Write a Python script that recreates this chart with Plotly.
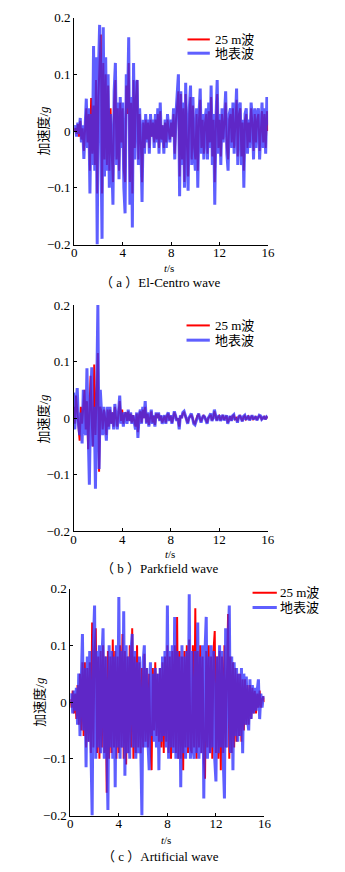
import numpy as np
import plotly.graph_objects as go

# ---------------- data (dt = 0.1 s) ----------------
time_s = [round(0.1 * i, 1) for i in range(161)]

# (a) El-Centro wave
elcentro_surface = [
    0.00, 0.01, -0.01, 0.015, -0.005, 0.023, -0.02, 0.01, -0.049, 0.02,
    0.057, -0.03, 0.04, -0.11, 0.03, -0.06, 0.15, -0.07, 0.13, -0.20,
    0.10, 0.187, -0.06, -0.19, 0.183, -0.08, 0.13, -0.07, 0.10, -0.10,
    0.03, -0.05, -0.13, 0.07, 0.12, -0.06, 0.05, -0.085, 0.06, -0.03,
    0.05, -0.10, -0.145, 0.10, 0.04, 0.165, -0.13, 0.06, -0.17, 0.12,
    -0.05, 0.08, 0.09, -0.06, 0.04, -0.02, -0.125, 0.02, -0.04, 0.03,
    -0.02, 0.02, -0.04, 0.03, -0.01, 0.02, -0.03, 0.03, -0.02, 0.04,
    -0.04, 0.05, -0.02, 0.01, -0.04, 0.02, -0.03, 0.03, 0.00, -0.02,
    0.02, -0.01, 0.04, -0.05, 0.03, 0.06, 0.10, -0.115, 0.07, -0.06,
    0.05, -0.10, 0.085, -0.03, -0.105, 0.04, 0.08, -0.06, 0.06, -0.04,
    -0.07, 0.04, -0.10, 0.03, 0.075, -0.04, 0.03, -0.05, 0.02, 0.04,
    -0.05, 0.05, -0.03, 0.08, -0.06, 0.03, -0.13, 0.02, 0.09, -0.04,
    0.03, -0.06, 0.04, -0.02, 0.03, 0.07, -0.04, -0.07, 0.03, 0.04,
    -0.03, 0.05, -0.04, 0.02, 0.075, -0.06, 0.04, 0.05, -0.06, 0.02,
    -0.10, 0.03, 0.04, -0.04, 0.02, -0.03, 0.05, 0.02, -0.05, 0.04,
    -0.03, 0.03, 0.04, -0.05, 0.02, 0.05, -0.03, 0.04, -0.04, 0.06,
    0.01,
]
elcentro_25m = [
    0.00, 0.005, -0.005, 0.012, -0.01, 0.018, -0.015, 0.005, -0.035, 0.01,
    0.04, -0.02, 0.03, -0.07, 0.058, -0.04, 0.045, -0.06, 0.09, -0.11,
    0.06, 0.12, 0.17, -0.11, 0.12, -0.05, 0.10, -0.06, 0.08, -0.07,
    0.04, -0.04, -0.09, 0.05, 0.09, -0.05, 0.04, -0.07, 0.05, -0.02,
    0.04, -0.07, -0.09, 0.08, 0.03, 0.12, -0.09, 0.05, -0.11, 0.09,
    -0.03, 0.06, 0.09, -0.05, 0.03, -0.02, -0.09, 0.015, -0.03, 0.02,
    -0.015, 0.015, -0.03, 0.02, -0.01, 0.015, -0.02, 0.02, -0.015, 0.03,
    -0.03, 0.035, -0.015, 0.01, -0.03, 0.015, -0.02, 0.02, 0.00, -0.015,
    0.015, -0.01, 0.03, -0.04, 0.02, 0.045, 0.07, -0.08, 0.065, -0.05,
    0.04, -0.09, 0.065, -0.02, -0.08, 0.03, 0.06, -0.05, 0.045, -0.03,
    -0.05, 0.03, -0.07, 0.02, 0.055, -0.03, 0.02, -0.04, 0.015, 0.03,
    -0.04, 0.035, -0.02, 0.06, -0.045, 0.02, -0.09, 0.015, 0.065, -0.03,
    0.02, -0.045, 0.03, -0.015, 0.02, 0.05, -0.03, -0.05, 0.02, 0.03,
    -0.02, 0.04, -0.03, 0.015, 0.055, -0.045, 0.03, 0.04, -0.045, 0.015,
    -0.07, 0.02, 0.03, -0.03, 0.015, -0.02, 0.04, 0.015, -0.035, 0.03,
    -0.02, 0.02, 0.03, -0.035, 0.015, 0.035, -0.02, 0.03, -0.03, 0.035,
    0.00,
]

# (b) Parkfield wave
parkfield_surface = [
    0.045, -0.02, 0.02, 0.053, -0.01, -0.03, 0.01, -0.045, 0.05, -0.02,
    -0.03, 0.088, -0.02, -0.118, 0.03, 0.09, -0.05, 0.02, -0.125, 0.05,
    0.20, -0.09, 0.05, 0.01, -0.03, 0.02, -0.01, -0.04, 0.02, -0.02,
    0.02, -0.01, 0.01, -0.02, 0.025, 0.00, -0.02, 0.01, 0.04, -0.01,
    0.01, -0.015, 0.01, 0.005, -0.01, 0.015, -0.005, 0.01, -0.01, 0.005,
    -0.01, -0.02, 0.01, -0.035, 0.005, 0.015, -0.01, 0.02, 0.00, 0.03,
    -0.01, 0.01, -0.015, 0.005, 0.015, -0.01, 0.005, -0.015, 0.01, 0.00,
    0.01, -0.005, 0.005, -0.01, 0.00, 0.005, -0.01, 0.005, 0.01, -0.005,
    0.005, -0.01, 0.00, 0.012, 0.005, -0.005, 0.00, -0.02, 0.005, 0.00,
    0.01, 0.012, 0.005, -0.005, -0.01, 0.00, 0.005, 0.008, 0.00, -0.01,
    -0.012, -0.005, 0.005, 0.008, 0.00, -0.008, 0.00, 0.005, 0.002, -0.005,
    -0.01, 0.00, 0.005, 0.008, -0.005, 0.00, 0.015, 0.005, -0.005, 0.002,
    0.005, -0.005, 0.00, 0.006, -0.004, 0.002, 0.005, -0.01, 0.00, 0.004,
    -0.005, 0.004, 0.006, -0.003, 0.00, -0.008, 0.002, 0.005, 0.00, -0.006,
    0.003, 0.005, -0.003, 0.00, 0.004, -0.004, 0.002, 0.005, -0.002, 0.00,
    0.003, -0.004, 0.00, 0.005, 0.004, -0.002, 0.00, 0.003, -0.002, 0.002,
    0.00,
]
parkfield_25m = [
    0.02, -0.01, 0.04, 0.01, -0.005, -0.04, 0.02, -0.01, 0.02, 0.05,
    -0.02, 0.03, -0.055, 0.02, 0.075, -0.01, -0.05, 0.095, -0.03, 0.04,
    0.115, -0.095, 0.02, 0.01, -0.02, 0.015, 0.00, -0.03, 0.015, -0.015,
    0.015, -0.01, 0.01, -0.015, 0.02, 0.00, -0.015, 0.01, 0.03, -0.005,
    0.015, -0.01, 0.005, 0.01, -0.005, 0.012, -0.005, 0.008, -0.008, 0.005,
    -0.008, -0.015, 0.008, -0.025, 0.005, 0.012, -0.008, 0.015, 0.00, 0.02,
    -0.008, 0.008, -0.012, 0.004, 0.012, -0.008, 0.004, -0.012, 0.008, 0.00,
    0.008, -0.004, 0.004, -0.008, 0.00, 0.004, -0.008, 0.004, 0.008, -0.004,
    0.004, -0.008, 0.00, 0.01, 0.004, -0.004, 0.00, -0.015, 0.004, 0.00,
    0.008, 0.01, 0.004, -0.004, -0.008, 0.00, 0.004, 0.006, 0.00, -0.008,
    -0.01, -0.004, 0.004, 0.006, 0.00, -0.006, 0.00, 0.004, 0.002, -0.004,
    -0.008, 0.00, 0.004, 0.006, -0.004, 0.00, 0.012, 0.004, -0.004, 0.002,
    0.004, -0.004, 0.00, 0.005, -0.003, 0.002, 0.004, -0.008, 0.00, 0.003,
    -0.004, 0.003, 0.005, -0.002, 0.00, -0.006, 0.002, 0.004, 0.00, -0.005,
    0.002, 0.004, -0.002, 0.00, 0.003, -0.003, 0.002, 0.004, -0.002, 0.00,
    0.002, -0.003, 0.00, 0.004, 0.003, -0.002, 0.00, 0.002, -0.002, 0.002,
    0.00,
]

# (c) Artificial wave
artificial_surface = [
    0.00, 0.015, -0.02, 0.02, -0.015, 0.025, -0.04, 0.05, -0.06, 0.06,
    0.12, -0.05, 0.06, -0.115, 0.08, -0.07, 0.09, -0.08, -0.20, 0.10,
    0.17, -0.10, 0.09, -0.08, 0.10, -0.09, 0.07, 0.13, -0.10, 0.08,
    -0.09, -0.19, 0.10, -0.08, 0.09, -0.10, 0.08, -0.15, 0.10, -0.08,
    0.185, -0.10, 0.09, -0.08, 0.16, -0.13, 0.10, -0.09, 0.08, -0.10,
    0.09, 0.12, -0.08, 0.09, -0.10, 0.07, -0.09, 0.08, -0.07, -0.20,
    0.07, 0.10, -0.08, 0.06, -0.07, -0.12, 0.07, -0.06, 0.05, -0.07,
    0.06, -0.08, 0.05, -0.12, 0.06, -0.07, 0.08, -0.06, 0.09, -0.08,
    0.17, -0.10, 0.09, -0.08, 0.10, -0.09, 0.15, -0.10, 0.09, -0.10,
    0.08, -0.15, 0.10, -0.09, 0.08, -0.10, 0.09, -0.08, 0.19, -0.10,
    0.09, -0.08, -0.10, 0.09, -0.09, 0.14, -0.10, 0.08, -0.09, 0.10,
    -0.17, 0.09, 0.15, -0.10, 0.08, -0.09, 0.10, -0.08, 0.09, -0.10,
    -0.14, 0.08, -0.09, 0.10, -0.08, 0.09, -0.10, -0.17, 0.13, -0.08,
    0.10, 0.17, -0.09, 0.08, -0.12, 0.07, -0.06, 0.06, -0.07, 0.05,
    -0.06, 0.06, -0.09, 0.05, -0.04, 0.045, -0.03, -0.05, 0.04, -0.03,
    0.03, -0.02, 0.025, -0.015, 0.02, 0.04, -0.03, 0.015, -0.01, 0.01,
    0.005,
]
artificial_25m = [
    0.005, -0.01, 0.02, -0.02, 0.015, -0.03, 0.03, -0.04, 0.05, -0.05,
    0.07, -0.06, 0.07, -0.08, 0.06, -0.07, 0.07, -0.09, 0.14, -0.08,
    0.09, 0.13, -0.09, 0.08, -0.10, 0.09, -0.08, 0.10, -0.09, 0.08,
    -0.16, 0.09, -0.10, 0.08, -0.09, 0.11, -0.08, 0.09, -0.10, 0.08,
    -0.09, 0.10, -0.08, 0.12, -0.10, 0.09, -0.11, 0.08, -0.09, 0.10,
    -0.08, 0.13, -0.10, 0.08, -0.09, 0.10, -0.08, 0.07, -0.09, 0.06,
    -0.08, 0.085, -0.07, 0.06, -0.08, 0.05, -0.07, -0.12, 0.06, -0.05,
    0.07, -0.06, 0.05, -0.07, 0.06, -0.08, 0.07, -0.09, 0.08, -0.07,
    0.10, -0.09, 0.08, -0.10, 0.09, -0.08, 0.10, -0.09, 0.15, -0.10,
    0.09, -0.10, 0.08, -0.12, 0.09, -0.08, 0.10, -0.09, 0.11, -0.08,
    -0.09, 0.10, -0.08, 0.165, -0.10, 0.09, -0.08, 0.10, -0.09, 0.08,
    -0.10, -0.135, 0.09, -0.08, 0.10, -0.09, 0.08, -0.10, 0.09, 0.125,
    -0.09, 0.08, -0.10, 0.09, -0.12, 0.08, -0.09, 0.10, -0.08, 0.09,
    0.155, -0.10, 0.08, -0.09, 0.07, -0.08, 0.06, -0.07, 0.05, -0.06,
    0.05, -0.07, 0.04, -0.05, 0.04, -0.04, 0.03, -0.04, 0.03, -0.03,
    0.025, -0.02, 0.02, -0.02, 0.015, -0.01, 0.02, -0.01, 0.005, 0.01,
    0.00,
]

x_ticks = [0, 4, 8, 12, 16]
x_ticktext = ["0", "4", "8", "12", "16"]
y_ticks = [-0.2, -0.1, 0, 0.1, 0.2]
y_ticktext = ["\u22120.2", "\u22120.1", "0", "0.1", "0.2"]

series_names = ["25 m波", "地表波"]
captions = ["（ a ）El-Centro wave", "（ b ）Parkfield wave", "（ c ）Artificial wave"]
panels = [
    (elcentro_25m, elcentro_surface),
    (parkfield_25m, parkfield_surface),
    (artificial_25m, artificial_surface),
]

# ---------------- layout geometry (pixels) ----------------
W, H = 345, 872
FONT = "Liberation Serif, 'Noto Sans CJK SC', serif"
RED = "rgb(255,0,0)"
BLUE = "rgba(50,50,255,0.78)"
RED_W, BLUE_W = 2, 3

# plot boxes: (left, right, top, bottom) in px
boxes = [
    (73.3, 273.0, 10.7, 241.7),
    (72.7, 272.7, 303.3, 533.3),
    (69.3, 269.3, 591.7, 822.7),
]
ytitle_pos = [(42, 126), (42, 419), (38, 707)]
xtitle_pos = [(171, 266), (172, 557), (168, 848)]
caption_pos = [(162, 280), (162, 571), (162, 864)]
# legend: (line x0, line x1, text x, row1 y, row2 y)
legend_geo = [
    (190, 213, 217, 33, 47),
    (189, 213, 217, 324, 339),
    (257, 282, 284, 596, 611),
]


def px(x):
    return x / W


def py(y):
    return 1 - y / H


fig = go.Figure()
layout = dict(
    width=W, height=H, margin=dict(l=0, r=0, t=0, b=0),
    paper_bgcolor="white", plot_bgcolor="white",
    font=dict(family=FONT, size=13, color="black"),
    showlegend=False,
)
annotations = []
shapes = []

for i, (red_vals, blue_vals) in enumerate(panels):
    n = "" if i == 0 else str(i + 1)
    fig.add_trace(go.Scatter(
        x=time_s, y=red_vals, mode="lines", name=series_names[0],
        line=dict(color=RED, width=RED_W), xaxis=f"x{n}", yaxis=f"y{n}",
    ))
    fig.add_trace(go.Scatter(
        x=time_s, y=blue_vals, mode="lines", name=series_names[1],
        line=dict(color=BLUE, width=BLUE_W), xaxis=f"x{n}", yaxis=f"y{n}",
    ))
    l, r, t, b = boxes[i]
    layout[f"xaxis{n}"] = dict(
        domain=[px(l), px(r)], range=[0, 16], anchor=f"y{n}",
        tickvals=x_ticks, ticktext=x_ticktext, ticks="inside", ticklen=3,
        tickcolor="black", showline=True, linecolor="black", linewidth=1,
        showgrid=False, zeroline=False, mirror=False,
        tickfont=dict(family=FONT, size=13), ticklabelstandoff=-4,
    )
    layout[f"yaxis{n}"] = dict(
        domain=[py(b), py(t)], range=[-0.2, 0.2], anchor=f"x{n}",
        tickvals=y_ticks, ticktext=y_ticktext, ticks="inside", ticklen=3,
        tickcolor="black", showline=True, linecolor="black", linewidth=1,
        showgrid=False, zeroline=False, mirror=False,
        tickfont=dict(family=FONT, size=13),
    )

    # legend (drawn as key lines + labels)
    x0, x1, xt, r1, r2 = legend_geo[i]
    for (yy, col, wd, name) in [(r1, RED, RED_W, series_names[0]),
                                (r2, BLUE, BLUE_W, series_names[1])]:
        shapes.append(dict(
            type="line", xref="paper", yref="paper",
            x0=px(x0), x1=px(x1), y0=py(yy), y1=py(yy),
            line=dict(color=col, width=wd),
        ))
        annotations.append(dict(
            text=name, x=px(xt), y=py(yy), xref="paper", yref="paper",
            showarrow=False, xanchor="left", yanchor="middle",
            font=dict(family=FONT, size=13), borderpad=0,
        ))

    tx, ty = ytitle_pos[i]
    annotations.append(dict(
        text="加速度/<i>g</i>", x=px(tx), y=py(ty), xref="paper", yref="paper",
        showarrow=False, textangle=-90, xanchor="center", yanchor="middle",
        font=dict(family=FONT, size=13), borderpad=0,
    ))
    tx, ty = xtitle_pos[i]
    annotations.append(dict(
        text="<i>t</i>/s", x=px(tx), y=py(ty), xref="paper", yref="paper",
        showarrow=False, xanchor="center", yanchor="middle",
        font=dict(family=FONT, size=11), borderpad=0,
    ))
    tx, ty = caption_pos[i]
    annotations.append(dict(
        text=captions[i], x=px(tx), y=py(ty), xref="paper", yref="paper",
        showarrow=False, xanchor="center", yanchor="middle",
        font=dict(family=FONT, size=13), borderpad=0,
    ))

layout["annotations"] = annotations
layout["shapes"] = shapes
fig.update_layout(**layout)
fig.write_html("out.html")
